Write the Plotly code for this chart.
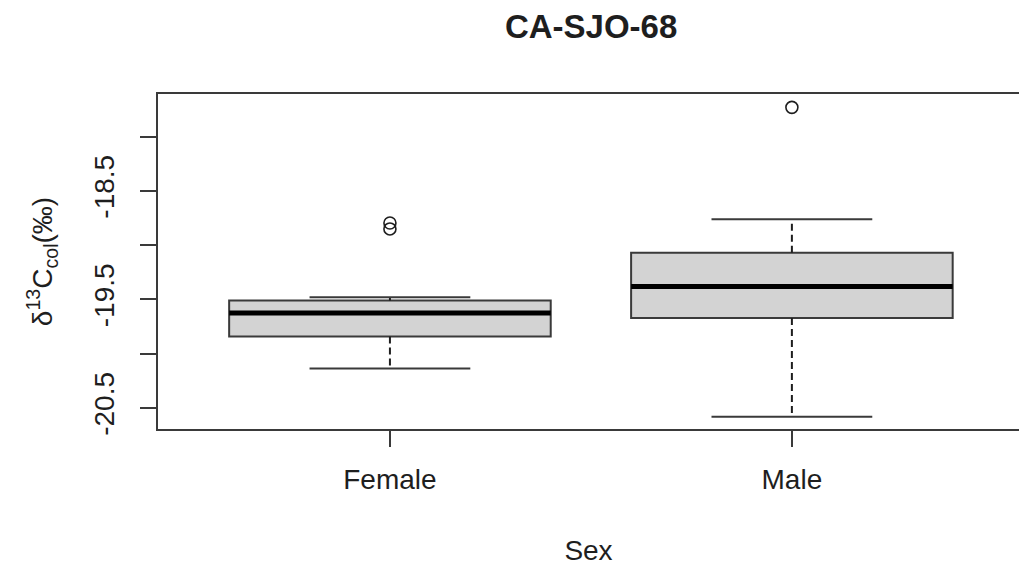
import plotly.graph_objects as go

# Box-plot summary for delta-13C collagen by sex (site CA-SJO-68)
categories = ["Female", "Male"]
positions = [1, 2]
lower_whisker = [-20.135, -20.58]
q1 = [-19.84, -19.67]
median = [-19.625, -19.38]
q3 = [-19.51, -19.07]
upper_whisker = [-19.48, -18.76]
outliers_female = [-18.795, -18.85]
outliers_male = [-17.73]

y_tickvals = [-18.0, -18.5, -19.0, -19.5, -20.0, -20.5]
y_ticktext = ["", "-18.5", "", "-19.5", "", "-20.5"]

FONT = "Liberation Sans, Arial, sans-serif"
INK = "#1e1e1e"
EDGE = "#3a3a3a"
BOX_HALF = 0.4
STAPLE_HALF = 0.2

fig = go.Figure()

# boxes (whiskers drawn separately so they can be dashed with staples)
fig.add_trace(go.Box(
    x=positions, q1=q1, median=median, q3=q3,
    lowerfence=q1, upperfence=q3,
    width=2 * BOX_HALF,
    fillcolor="#d3d3d3",
    line=dict(color=EDGE, width=2),
    boxpoints=False, hoverinfo="skip", showlegend=False,
))

for i, xc in enumerate(positions):
    # dashed whiskers
    for a, b in ((q3[i], upper_whisker[i]), (q1[i], lower_whisker[i])):
        fig.add_trace(go.Scatter(
            x=[xc, xc], y=[a, b], mode="lines",
            line=dict(color=INK, width=2, dash="7px,4px"),
            hoverinfo="skip", showlegend=False,
        ))
    # staples
    for v in (upper_whisker[i], lower_whisker[i]):
        fig.add_trace(go.Scatter(
            x=[xc - STAPLE_HALF, xc + STAPLE_HALF], y=[v, v], mode="lines",
            line=dict(color=EDGE, width=2),
            hoverinfo="skip", showlegend=False,
        ))
    # thick median bar
    fig.add_trace(go.Scatter(
        x=[xc - BOX_HALF, xc + BOX_HALF], y=[median[i], median[i]], mode="lines",
        line=dict(color="black", width=5),
        hoverinfo="skip", showlegend=False,
    ))

# outliers as open circles
for xc, pts in zip(positions, (outliers_female, outliers_male)):
    fig.add_trace(go.Scatter(
        x=[xc] * len(pts), y=pts, mode="markers",
        marker=dict(symbol="circle-open", size=12, color=INK, line=dict(width=1.6)),
        hoverinfo="skip", showlegend=False,
    ))

fig.update_layout(
    width=1019, height=567,
    margin=dict(l=158, r=0, t=94, b=138),
    paper_bgcolor="white", plot_bgcolor="white",
    font=dict(family=FONT, size=28, color=INK),
    title=dict(
        text="<b>CA-SJO-68</b>",
        font=dict(family=FONT, size=33, color=INK),
        x=0.503, xref="paper", xanchor="center",
        y=1 - 26 / 567, yref="container", yanchor="middle",
    ),
    xaxis=dict(
        range=[0.423, 2.565],
        tickvals=positions, ticktext=categories,
        showgrid=False, zeroline=False,
        showline=True, mirror=True, linecolor=EDGE, linewidth=2,
        ticks="outside", ticklen=16, tickwidth=2, tickcolor=EDGE,
        tickfont=dict(size=28, color=INK),
        ticklabelstandoff=8,
        title=dict(text="Sex", font=dict(size=28, color=INK), standoff=47),
        automargin=False,
    ),
    yaxis=dict(
        range=[-20.693, -17.607],
        tickvals=y_tickvals, ticktext=y_ticktext,
        tickangle=-90,
        showgrid=False, zeroline=False,
        showline=True, mirror=False, linecolor=EDGE, linewidth=2,
        ticks="outside", ticklen=16, tickwidth=2, tickcolor=EDGE,
        tickfont=dict(size=28, color=INK),
        ticklabelstandoff=15,
        title=dict(text="δ<sup>13</sup>C<sub>col</sub>(‰)",
                   font=dict(size=28, color=INK), standoff=28),
        automargin=False,
    ),
)

fig.write_html("out.html")
